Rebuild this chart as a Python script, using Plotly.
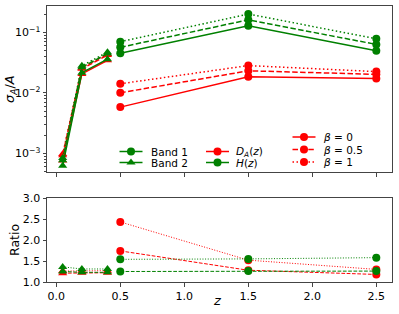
import plotly.graph_objects as go

# ---------------- data ----------------
z_band2 = [0.05, 0.2, 0.4]
z_band1 = [0.5, 1.5, 2.5]

# sigma_A / A  (top panel)
da_b2_beta0 = [7.6e-4, 0.0205, 0.0345]
da_b2_beta05 = [9.3e-4, 0.025, 0.042]
da_b2_beta1 = [9.7e-4, 0.026, 0.044]
h_b2_beta0 = [6.2e-4, 0.0215, 0.036]
h_b2_beta05 = [7.7e-4, 0.0265, 0.0445]
h_b2_beta1 = [8.4e-4, 0.028, 0.047]

da_b1_beta0 = [0.0058, 0.0184, 0.0172]
da_b1_beta05 = [0.0100, 0.0231, 0.0202]
da_b1_beta1 = [0.0141, 0.0282, 0.0224]
h_b1_beta0 = [0.045, 0.1285, 0.0497]
h_b1_beta05 = [0.0565, 0.161, 0.063]
h_b1_beta1 = [0.070, 0.200, 0.0785]

# ratios (bottom panel)
r_da_b2_beta05 = [1.21, 1.22, 1.22]
r_da_b2_beta1 = [1.26, 1.27, 1.27]
r_h_b2_beta05 = [1.25, 1.23, 1.23]
r_h_b2_beta1 = [1.36, 1.31, 1.31]
r_da_b1_beta05 = [1.74, 1.28, 1.18]
r_da_b1_beta1 = [2.43, 1.52, 1.30]
r_h_b1_beta05 = [1.25, 1.26, 1.26]
r_h_b1_beta1 = [1.54, 1.55, 1.58]

log_tickvals = [1e-3, 1e-2, 1e-1]
log_ticktext = ["10<sup>\u22123</sup>", "10<sup>\u22122</sup>", "10<sup>\u22121</sup>"]
x_tickvals = [0.0, 0.5, 1.0, 1.5, 2.0, 2.5]
ratio_tickvals = [1.0, 1.5, 2.0, 2.5, 3.0]

legend1_labels = ["Band 1", "Band 2"]
legend2_labels = ["<i>D</i><sub><i>A</i></sub>(<i>z</i>)", "<i>H</i>(<i>z</i>)"]
legend3_labels = ["<i>\u03b2</i> = 0", "<i>\u03b2</i> = 0.5", "<i>\u03b2</i> = 1"]

RED = "#ff0000"
GREEN = "#008000"
FONT = "DejaVu Sans"

# figure geometry (pixels)
W, H = 399, 314
L, R, T, B = 47, 392, 6, 282


def px_x(p):
    return (p - L) / (R - L)


def px_y(p):
    return (B - p) / (B - T)


DASH_THICK = "5.5px,2.4px"
DOT_THICK = "1.5px,2.5px"
DASH_THIN = "3.7px,1.6px"
DOT_THIN = "1px,1.65px"

fig = go.Figure()


def add(x, y, color, dash, symbol, xa, ya, width):
    fig.add_trace(go.Scatter(
        x=x, y=y, mode="lines+markers", xaxis=xa, yaxis=ya,
        line=dict(color=color, dash=dash, width=width),
        marker=dict(color=color, symbol=symbol, size=8),
        showlegend=False, hoverinfo="skip"))


# top panel: red first, green over
for y, d in [(da_b2_beta0, "solid"), (da_b2_beta05, DASH_THICK), (da_b2_beta1, DOT_THICK)]:
    add(z_band2, y, RED, d, "triangle-up", "x", "y", 1.5)
for y, d in [(da_b1_beta0, "solid"), (da_b1_beta05, DASH_THICK), (da_b1_beta1, DOT_THICK)]:
    add(z_band1, y, RED, d, "circle", "x", "y", 1.5)
for y, d in [(h_b2_beta0, "solid"), (h_b2_beta05, DASH_THICK), (h_b2_beta1, DOT_THICK)]:
    add(z_band2, y, GREEN, d, "triangle-up", "x", "y", 1.5)
for y, d in [(h_b1_beta0, "solid"), (h_b1_beta05, DASH_THICK), (h_b1_beta1, DOT_THICK)]:
    add(z_band1, y, GREEN, d, "circle", "x", "y", 1.5)

# bottom panel
for y, d in [(r_da_b2_beta05, DASH_THIN), (r_da_b2_beta1, DOT_THIN)]:
    add(z_band2, y, RED, d, "triangle-up", "x2", "y2", 1.0)
for y, d in [(r_da_b1_beta05, DASH_THIN), (r_da_b1_beta1, DOT_THIN)]:
    add(z_band1, y, RED, d, "circle", "x2", "y2", 1.0)
for y, d in [(r_h_b2_beta05, DASH_THIN), (r_h_b2_beta1, DOT_THIN)]:
    add(z_band2, y, GREEN, d, "triangle-up", "x2", "y2", 1.0)
for y, d in [(r_h_b1_beta05, DASH_THIN), (r_h_b1_beta1, DOT_THIN)]:
    add(z_band1, y, GREEN, d, "circle", "x2", "y2", 1.0)

# ---- hand-drawn legends (overlay axis in pixel units) ----
annotations = []


def legend_key(x0, x1, yc, color, dash, symbol, label, tx):
    fig.add_trace(go.Scatter(
        x=[x0, (x0 + x1) / 2, x1], y=[yc, yc, yc], mode="lines",
        xaxis="x3", yaxis="y3", line=dict(color=color, dash=dash, width=1.5),
        showlegend=False, hoverinfo="skip"))
    fig.add_trace(go.Scatter(
        x=[(x0 + x1) / 2], y=[yc], mode="markers", xaxis="x3", yaxis="y3",
        marker=dict(color=color, symbol=symbol, size=8),
        showlegend=False, hoverinfo="skip"))
    annotations.append(dict(
        x=px_x(tx), y=px_y(yc), xref="paper", yref="paper", text=label,
        showarrow=False, xanchor="left", yanchor="middle",
        font=dict(size=10.5, color="black", family=FONT)))


legend_key(119.5, 142.5, 151.5, GREEN, "solid", "circle", legend1_labels[0], 149)
legend_key(119.5, 142.5, 162.5, GREEN, "solid", "triangle-up", legend1_labels[1], 149)
legend_key(206, 229, 151.5, RED, "solid", "circle", legend2_labels[0], 234)
legend_key(206, 229, 162.5, GREEN, "solid", "circle", legend2_labels[1], 234)
legend_key(292.5, 315.5, 137, RED, "solid", "circle", legend3_labels[0], 321)
legend_key(292.5, 315.5, 149.5, RED, DASH_THICK, "circle", legend3_labels[1], 321)
legend_key(292.5, 315.5, 162, RED, DOT_THICK, "circle", legend3_labels[2], 321)

# axis titles
annotations.append(dict(x=px_x(10), y=px_y(89), xref="paper", yref="paper",
                        text="<i>\u03c3<sub>A</sub></i>/<i>A</i>", textangle=-90,
                        showarrow=False, xanchor="center", yanchor="middle",
                        font=dict(size=13, color="black", family=FONT)))
annotations.append(dict(x=px_x(14), y=px_y(240), xref="paper", yref="paper",
                        text="Ratio", textangle=-90,
                        showarrow=False, xanchor="center", yanchor="middle",
                        font=dict(size=12.5, color="black", family=FONT)))
annotations.append(dict(x=px_x(217), y=px_y(300), xref="paper", yref="paper",
                        text="<i>z</i>",
                        showarrow=False, xanchor="center", yanchor="middle",
                        font=dict(size=13, color="black", family=FONT)))

axis_common = dict(showline=True, linecolor="#444", linewidth=1, mirror=True,
                   ticks="outside", ticklen=3.5, tickcolor="#444", showgrid=False,
                   zeroline=False, automargin=False,
                   tickfont=dict(size=11, color="black", family=FONT))

minor_vals = [m * 10 ** e for e in (-4, -3, -2, -1) for m in range(2, 10)]

fig.update_layout(
    width=W, height=H,
    margin=dict(l=L, r=W - R, t=T, b=H - B, autoexpand=False),
    paper_bgcolor="white", plot_bgcolor="rgba(0,0,0,0)",
    font=dict(family=FONT, color="black"),
    showlegend=False,
    xaxis=dict(domain=[0, 1], anchor="y", range=[-0.0725, 2.6225],
               tickvals=x_tickvals, showticklabels=False, **axis_common),
    yaxis=dict(domain=[px_y(172.3), 1], anchor="x", type="log", range=[-3.314, -0.565],
               tickvals=log_tickvals, ticktext=log_ticktext,
               minor=dict(ticks="outside", ticklen=2, tickcolor="#444", tickvals=minor_vals),
               **axis_common),
    xaxis2=dict(domain=[0, 1], anchor="y2", range=[-0.0725, 2.6225],
                tickvals=x_tickvals, tickformat=".1f", **axis_common),
    yaxis2=dict(domain=[0, px_y(198)], anchor="x2", range=[1.0, 3.0],
                tickvals=ratio_tickvals, tickformat=".1f", **axis_common),
    xaxis3=dict(domain=[0, 1], anchor="y3", range=[L, R], visible=False, fixedrange=True),
    yaxis3=dict(domain=[0, 1], anchor="x3", range=[B, T], visible=False, fixedrange=True),
    annotations=annotations,
)

fig.write_html("out.html", config={"displayModeBar": False},
               post_script="document.body.style.margin='0';document.body.style.overflow='hidden';")
